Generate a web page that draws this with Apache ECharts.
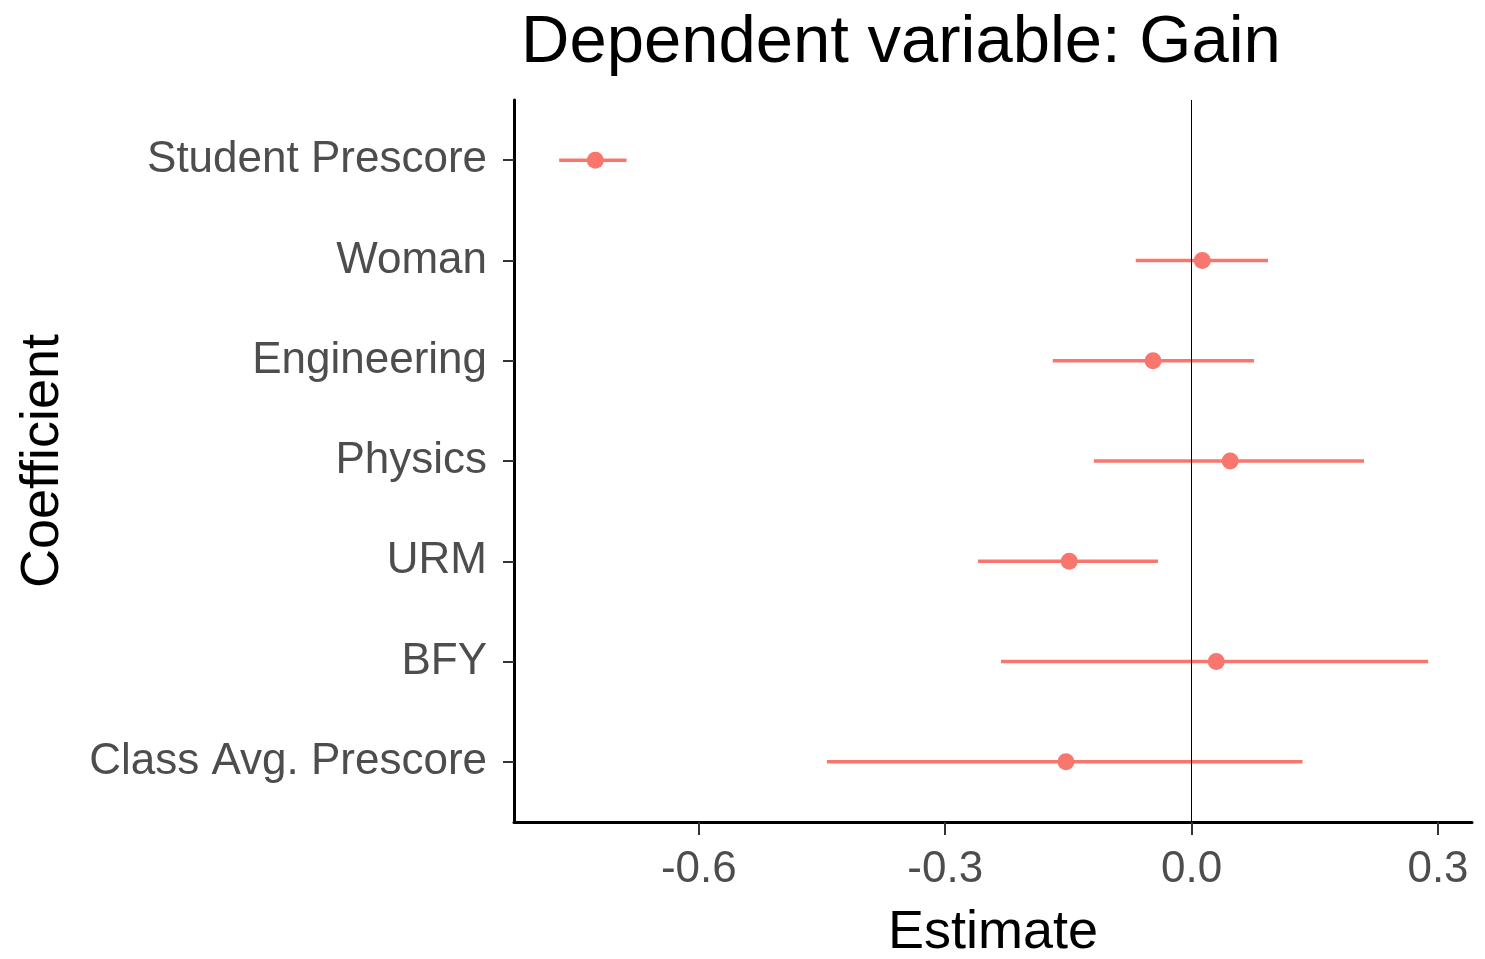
<!DOCTYPE html>
<html lang="en">
<head>
	<meta charset="UTF-8">
	<title>Dependent variable: Gain</title>
	<style>
	body, div {
		margin: 0;
		padding: 0;
	}
	.echart {
		width: 1485px;
		height: 959px;
	}
	</style>
</head>
<body>
	<div id="echart" class="echart"></div>

	<script src="https://cdn.jsdelivr.net/npm/echarts@6/dist/echarts.min.js"></script>

	<script>

	// coefficients, top to bottom
	var categories = ['Student Prescore', 'Woman', 'Engineering', 'Physics', 'URM', 'BFY', 'Class Avg. Prescore'];
	var estimates  = [-0.726, 0.013, -0.047, 0.047, -0.149, 0.030, -0.153];
	var lower      = [-0.770, -0.068, -0.169, -0.119, -0.260, -0.232, -0.444];
	var upper      = [-0.688, 0.093, 0.076, 0.210, -0.041, 0.288, 0.135];
	var xTicks     = [-0.6, -0.3, 0.0, 0.3];

	var font = '"Liberation Sans", Arial, sans-serif';
	var pointColor = '#F8766D';

	var catIdx = categories.map(function(c, i) { return i; });

	var barData = [];
	var pointData = [];
	for (var i = 0; i < categories.length; i++) {
		barData.push([lower[i], upper[i], i]);
		pointData.push([estimates[i], i]);
	}

	var myChart = echarts.init(document.getElementById('echart'));

	myChart.setOption({
		animation: false,
		textStyle: { fontFamily: font },
		title: {
			text: 'Dependent variable: Gain',
			left: 516,
			top: 5,
			textStyle: { fontFamily: font, fontSize: 67, fontWeight: 'normal', color: '#000' }
		},
		grid: {
			left: 514,
			right: 13,
			top: 100,
			bottom: 137,
			outerBoundsMode: 'none'
		},
		xAxis: {
			type: 'value',
			min: -0.825,
			max: 0.3414,
			name: 'Estimate',
			nameLocation: 'middle',
			nameGap: 84,
			nameTextStyle: { fontFamily: font, fontSize: 54, color: '#000' },
			axisLine: { onZero: false, lineStyle: { color: '#000', width: 3 } },
			axisTick: { customValues: xTicks, length: 13, lineStyle: { color: '#333', width: 2 } },
			axisLabel: {
				customValues: xTicks,
				margin: 26,
				fontSize: 44,
				color: '#4D4D4D',
				formatter: function(v) { return v.toFixed(1); }
			},
			splitLine: { show: false }
		},
		yAxis: {
			type: 'value',
			min: -0.6,
			max: 6.6,
			inverse: true,
			name: 'Coefficient',
			nameLocation: 'middle',
			nameRotate: 90,
			nameGap: 444,
			nameTextStyle: { fontFamily: font, fontSize: 54, color: '#000' },
			axisLine: { onZero: false, lineStyle: { color: '#000', width: 3 } },
			axisTick: { customValues: catIdx, length: 11, lineStyle: { color: '#333', width: 2 } },
			axisLabel: {
				customValues: catIdx,
				margin: 27,
				fontSize: 44,
				color: '#4D4D4D',
				padding: [10, 0, 0, 0],
				formatter: function(v) { return categories[Math.round(v)]; }
			},
			splitLine: { show: false }
		},
		series: [
			{
				name: 'ci',
				type: 'custom',
				silent: true,
				renderItem: function(params, api) {
					var a = api.coord([api.value(0), api.value(2)]);
					var b = api.coord([api.value(1), api.value(2)]);
					return {
						type: 'line',
						shape: { x1: a[0], y1: a[1], x2: b[0], y2: b[1] },
						style: { stroke: pointColor, lineWidth: 3.5 }
					};
				},
				encode: { x: [0, 1], y: 2 },
				data: barData,
				markLine: {
					silent: true,
					symbol: 'none',
					label: { show: false },
					lineStyle: { color: '#000', width: 1, type: 'solid' },
					data: [{ xAxis: 0 }]
				},
				z: 2
			},
			{
				name: 'estimate',
				type: 'scatter',
				symbol: 'circle',
				symbolSize: 17,
				itemStyle: { color: pointColor, opacity: 1 },
				data: pointData,
				z: 3
			}
		]
	});

	</script>
</body>
</html>
